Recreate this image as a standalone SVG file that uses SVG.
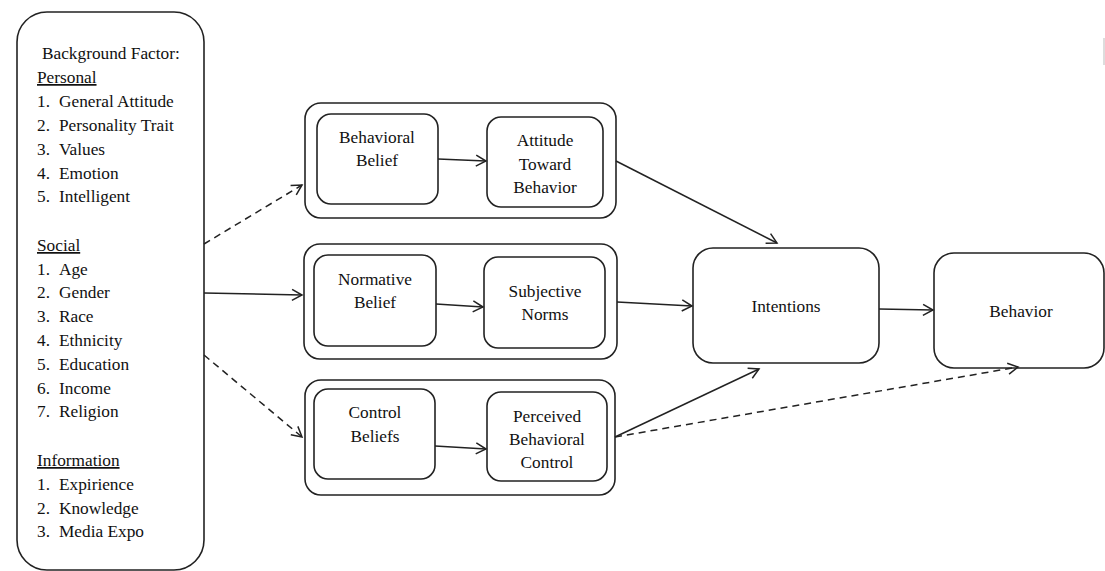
<svg xmlns="http://www.w3.org/2000/svg" width="1105" height="571" viewBox="0 0 1105 571">
<defs>
<style>
text{font-family:"Liberation Serif","Times New Roman",serif;font-size:17.3px;fill:#111}
.c{text-anchor:middle}
.u{text-decoration:underline}
.box{fill:#fff;stroke:#222;stroke-width:1.6}
.con{fill:none;stroke:#222;stroke-width:1.5}
.d{stroke-dasharray:7 5}
</style>
<marker id="ah" markerUnits="userSpaceOnUse" markerWidth="14" markerHeight="14" refX="11" refY="6" orient="auto" viewBox="0 0 14 12">
<path d="M1,0.5 L11,6 L1,11.5" fill="none" stroke="#222" stroke-width="1.5"/>
</marker>
</defs>
<rect width="1105" height="571" fill="#fff"/>
<line x1="1104" y1="38" x2="1104" y2="65" stroke="#bbb" stroke-width="1"/>

<g id="background">
<rect class="box" x="17" y="12" width="187" height="558" rx="30"/>
<text x="42" y="59">Background Factor:</text>
<text x="37" y="83" class="u">Personal</text>
<text y="107"><tspan x="37">1.</tspan><tspan x="59">General Attitude</tspan></text>
<text y="131"><tspan x="37">2.</tspan><tspan x="59">Personality Trait</tspan></text>
<text y="155"><tspan x="37">3.</tspan><tspan x="59">Values</tspan></text>
<text y="179"><tspan x="37">4.</tspan><tspan x="59">Emotion</tspan></text>
<text y="202"><tspan x="37">5.</tspan><tspan x="59">Intelligent</tspan></text>
<text x="37" y="251" class="u">Social</text>
<text y="275"><tspan x="37">1.</tspan><tspan x="59">Age</tspan></text>
<text y="298"><tspan x="37">2.</tspan><tspan x="59">Gender</tspan></text>
<text y="322"><tspan x="37">3.</tspan><tspan x="59">Race</tspan></text>
<text y="346"><tspan x="37">4.</tspan><tspan x="59">Ethnicity</tspan></text>
<text y="370"><tspan x="37">5.</tspan><tspan x="59">Education</tspan></text>
<text y="394"><tspan x="37">6.</tspan><tspan x="59">Income</tspan></text>
<text y="417"><tspan x="37">7.</tspan><tspan x="59">Religion</tspan></text>
<text x="37" y="466" class="u">Information</text>
<text y="490"><tspan x="37">1.</tspan><tspan x="59">Expirience</tspan></text>
<text y="514"><tspan x="37">2.</tspan><tspan x="59">Knowledge</tspan></text>
<text y="537"><tspan x="37">3.</tspan><tspan x="59">Media Expo</tspan></text>
</g>

<g id="group-attitude">
<rect class="box" x="305" y="103" width="311" height="115" rx="16"/>
</g>
<g id="behavioral-belief">
<rect class="box" x="317" y="114" width="121" height="90" rx="14"/>
<text class="c" x="377" y="143">Behavioral</text>
<text class="c" x="377" y="166">Belief</text>
</g>
<g id="attitude">
<rect class="box" x="487" y="117" width="116" height="90" rx="14"/>
<text class="c" x="545" y="146">Attitude</text>
<text class="c" x="545" y="170">Toward</text>
<text class="c" x="545" y="193">Behavior</text>
</g>

<g id="group-norms">
<rect class="box" x="304" y="244" width="313" height="115" rx="16"/>
</g>
<g id="normative-belief">
<rect class="box" x="314" y="255" width="122" height="91" rx="14"/>
<text class="c" x="375" y="285">Normative</text>
<text class="c" x="375" y="308">Belief</text>
</g>
<g id="subjective-norms">
<rect class="box" x="484" y="257" width="121" height="91" rx="14"/>
<text class="c" x="545" y="297">Subjective</text>
<text class="c" x="545" y="320">Norms</text>
</g>

<g id="group-control">
<rect class="box" x="305" y="380" width="310" height="115" rx="16"/>
</g>
<g id="control-beliefs">
<rect class="box" x="314" y="389" width="121" height="90" rx="14"/>
<text class="c" x="375" y="418">Control</text>
<text class="c" x="375" y="442">Beliefs</text>
</g>
<g id="pbc">
<rect class="box" x="487" y="392" width="120" height="89" rx="14"/>
<text class="c" x="547" y="422">Perceived</text>
<text class="c" x="547" y="445">Behavioral</text>
<text class="c" x="547" y="468">Control</text>
</g>

<g id="intentions">
<rect class="box" x="693" y="248" width="186" height="115" rx="20"/>
<text class="c" x="786" y="312">Intentions</text>
</g>
<g id="behavior">
<rect class="box" x="934" y="253" width="170" height="115" rx="20"/>
<text class="c" x="1021" y="317">Behavior</text>
</g>

<g id="connectors">
<line class="con d" x1="204" y1="244" x2="302" y2="185" marker-end="url(#ah)"/>
<line class="con" x1="204" y1="293" x2="302" y2="295" marker-end="url(#ah)"/>
<line class="con d" x1="204" y1="355" x2="302" y2="437" marker-end="url(#ah)"/>
<line class="con" x1="438" y1="159" x2="486" y2="161" marker-end="url(#ah)"/>
<line class="con" x1="436" y1="304" x2="483" y2="307" marker-end="url(#ah)"/>
<line class="con" x1="435" y1="446" x2="486" y2="449" marker-end="url(#ah)"/>
<line class="con" x1="616" y1="161" x2="777" y2="243" marker-end="url(#ah)"/>
<line class="con" x1="617" y1="302" x2="692" y2="306" marker-end="url(#ah)"/>
<line class="con" x1="615" y1="437" x2="759" y2="369" marker-end="url(#ah)"/>
<line class="con d" x1="615" y1="437" x2="1018" y2="367" marker-end="url(#ah)"/>
<line class="con" x1="879" y1="309" x2="933" y2="310" marker-end="url(#ah)"/>
</g>
</svg>
